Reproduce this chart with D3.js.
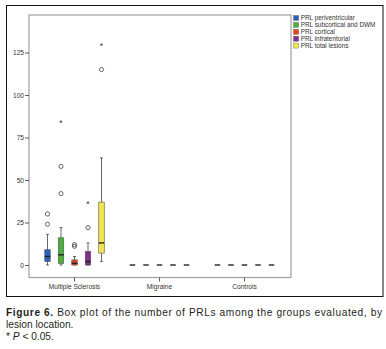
<!DOCTYPE html>
<html>
<head>
<meta charset="utf-8">
<script src="https://cdn.jsdelivr.net/npm/d3@7"></script>
<style>
  body { margin: 0; background: #fff; }
  svg { display: block; }
</style>
</head>
<body>
<div id="chart"></div>
<script>
const groups = ['Multiple Sclerosis', 'Migraine', 'Controls']
const locations = ['PRL periventricular', 'PRL subcortical and DWM', 'PRL cortical', 'PRL infratentorial', 'PRL total lesions']
const colors = ['#2a62b8', '#4caf3f', '#e5431f', '#7e2f8e', '#f2e64c']
const yTicks = [0, 25, 50, 75, 100, 125]

// five-number summaries per location, one array per group: [low, q1, median, q3, high]
const msStats = [
  [0, 2, 5, 9, 18],
  [0, 1, 6, 16, 22],
  [0, 0, 1, 3, 5],
  [0, 0, 2, 8, 13],
  [2, 7, 13, 37, 63],
]
const migraineStats = [
  [0, 0, 0, 0, 0],
  [0, 0, 0, 0, 0],
  [0, 0, 0, 0, 0],
  [0, 0, 0, 0, 0],
  [0, 0, 0, 0, 0],
]
const controlStats = [
  [0, 0, 0, 0, 0],
  [0, 0, 0, 0, 0],
  [0, 0, 0, 0, 0],
  [0, 0, 0, 0, 0],
  [0, 0, 0, 0, 0],
]
const msOutliers = [[24, 30], [42, 58], [11, 12], [22], [115]]
const msExtremes = [[], [84], [], [36], [129]]

const width = 386
const height = 349
const plot = { left: 29, right: 291, top: 15, bottom: 277.5 }
const font = 'Liberation Sans, Arial, sans-serif'

const svg = d3.select('#chart').append('svg').attr('width', width).attr('height', height)
  .style('font-family', font)

// outer frame
svg.append('rect').attr('x', 6.5).attr('y', 5.5).attr('width', 376.5).attr('height', 291)
  .attr('fill', 'none').attr('stroke', '#111').attr('stroke-width', 1)

const x = d3.scaleBand().domain(groups).range([32, 287])
const xInner = d3.scalePoint().domain(locations).range([-27, 27])
const y = d3.scaleLinear().domain([-7.35, 147.06]).range([plot.bottom, plot.top])

svg.append('rect').attr('x', plot.left).attr('y', plot.top)
  .attr('width', plot.right - plot.left).attr('height', plot.bottom - plot.top)
  .attr('fill', 'none').attr('stroke', '#a0a0a0').attr('stroke-width', 1.2)

const yAxis = d3.axisLeft(y).tickValues(yTicks).tickSize(4).tickPadding(1)
const yAxisGroup = svg.append('g').attr('transform', `translate(${plot.left}, 0)`).call(yAxis)
const xAxis = d3.axisBottom(x).tickSize(4).tickPadding(2.5)
const xAxisGroup = svg.append('g').attr('transform', `translate(0, ${plot.bottom})`).call(xAxis)

;[yAxisGroup, xAxisGroup].forEach(g => {
  g.select('.domain').remove()
  g.selectAll('.tick line').attr('stroke', '#333').attr('stroke-width', 0.8)
  g.selectAll('.tick text').attr('font-size', 6.6).attr('fill', '#333').attr('font-family', font)
})

const boxW = 5.5
const allStats = [msStats, migraineStats, controlStats]

groups.forEach((grp, gi) => {
  const stats = allStats[gi]
  stats.forEach((s, li) => {
    const cx = x(grp) + x.bandwidth() / 2 + xInner(locations[li])
    const g = svg.append('g')
    const [lo, q1, med, q3, hi] = s
    if (hi > lo) {
      g.append('line').attr('x1', cx).attr('x2', cx).attr('y1', y(lo)).attr('y2', y(hi))
        .attr('stroke', '#444').attr('stroke-width', 0.8)
      g.selectAll('line.cap').data([lo, hi]).enter().append('line').attr('class', 'cap')
        .attr('x1', cx - 1.5).attr('x2', cx + 1.5).attr('y1', d => y(d)).attr('y2', d => y(d))
        .attr('stroke', '#444').attr('stroke-width', 0.8)
    }
    if (q3 > q1) {
      g.append('rect').attr('x', cx - boxW / 2).attr('y', y(q3))
        .attr('width', boxW).attr('height', y(q1) - y(q3))
        .attr('fill', colors[li]).attr('stroke', '#555').attr('stroke-width', 0.6)
    }
    g.append('line').attr('x1', cx - boxW / 2).attr('x2', cx + boxW / 2)
      .attr('y1', y(med)).attr('y2', y(med))
      .attr('stroke', '#222').attr('stroke-width', 1.4)

    if (gi === 0) {
      g.selectAll('circle').data(msOutliers[li]).enter().append('circle')
        .attr('cx', cx).attr('cy', d => y(d)).attr('r', 2.1)
        .attr('fill', 'none').attr('stroke', '#444').attr('stroke-width', 0.8)
      g.selectAll('text.star').data(msExtremes[li]).enter().append('text').attr('class', 'star')
        .attr('x', cx).attr('y', d => y(d) + 3.4).attr('text-anchor', 'middle')
        .attr('font-size', 8.5).attr('fill', '#333').text('*')
    }
  })
})

// legend
const legend = svg.append('g').attr('transform', 'translate(293.5, 15.5)')
locations.forEach((name, i) => {
  const row = legend.append('g').attr('transform', `translate(0, ${i * 6.9})`)
  row.append('rect').attr('width', 5.2).attr('height', 5)
    .attr('fill', colors[i]).attr('stroke', '#666').attr('stroke-width', 0.4)
  row.append('text').attr('x', 7.2).attr('y', 4.7).attr('font-size', 6.4).attr('fill', '#333').text(name)
})

// caption
const cap = svg.append('g').attr('fill', '#231f20').attr('font-size', 10.2).attr('font-family', font)
const line1 = cap.append('text').attr('x', 6).attr('y', 316)
  .attr('textLength', 376).attr('lengthAdjust', 'spacing')
line1.append('tspan').attr('font-weight', 'bold').text('Figure 6.')
line1.append('tspan').text(' Box plot of the number of PRLs among the groups evaluated, by')
cap.append('text').attr('x', 6).attr('y', 327.5).text('lesion location.')
const line3 = cap.append('text').attr('x', 6).attr('y', 339.5)
line3.append('tspan').text('* ')
line3.append('tspan').attr('font-style', 'italic').text('P')
line3.append('tspan').text(' < 0.05.')
</script>
</body>
</html>
